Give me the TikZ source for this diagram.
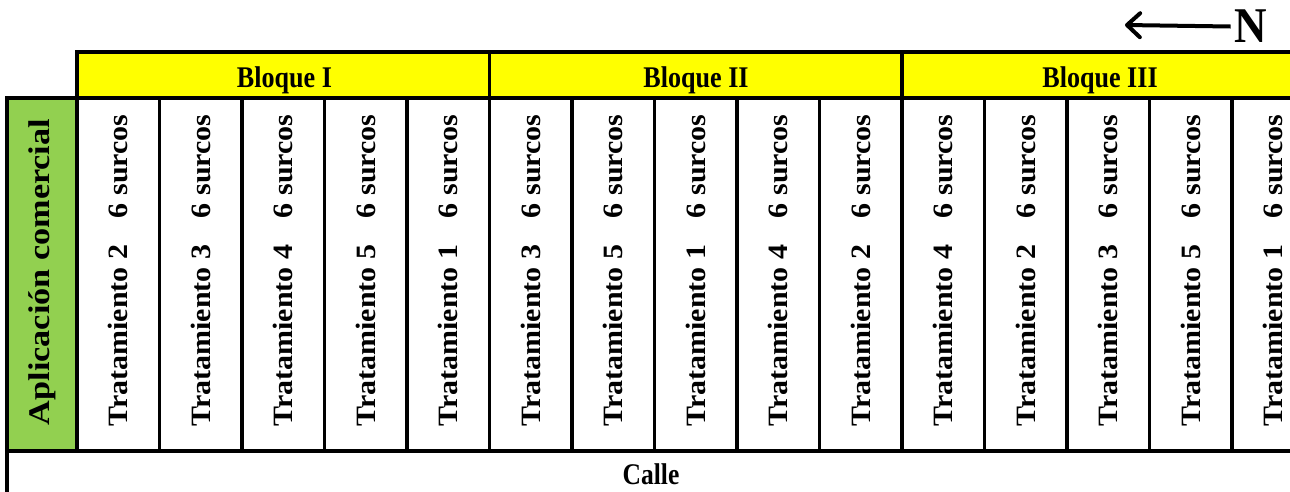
\documentclass[tikz,border=0pt]{standalone}
\usepackage{fontspec}
\setmainfont{Liberation Serif}
\usetikzlibrary{arrows.meta}
\definecolor{hdryellow}{HTML}{FFFF00}
\definecolor{appgreen}{HTML}{92D050}
\begin{document}
\begin{tikzpicture}[x=1pt,y=-1pt,
  border/.style={draw=black,line width=3.3pt,inner sep=0pt,outer sep=0pt},
  hdr/.style={border,fill=hdryellow,minimum width=412.5pt,minimum height=46pt},
  hdrtext/.style={inner sep=0pt,anchor=base,font=\fontsize{30}{32}\selectfont\bfseries},
  colcell/.style={border,minimum width=82.5pt,minimum height=353pt},
  coltext/.style={inner sep=0pt,rotate=90,font=\fontsize{28}{30}\selectfont\bfseries},
  apptext/.style={inner sep=0pt,rotate=90,font=\fontsize{30}{32}\selectfont\bfseries},
  northarrow/.style={line width=4pt,-{Straight Barb[length=13pt,width=24pt,line width=4pt,round]}}
]
\useasboundingbox (0,0) rectangle (1290,491);
\clip (0,0) rectangle (1290,491);
% block headers
\node[hdr] (b1) at (283.25,75) {};
\node[hdr] (b2) at (695.75,75) {};
\node[hdr] (b3) at (1108.25,75) {};
\node[hdrtext] (b1t) at (284.5,87) {\scalebox{0.87}[1]{Bloque I}};
\node[hdrtext] (b2t) at (696,87) {\scalebox{0.87}[1]{Bloque II}};
\node[hdrtext] (b3t) at (1100,87) {\scalebox{0.87}[1]{Bloque III}};
% street row
\node[border,minimum width=1306pt,minimum height=48pt] (calle) at (660,475) {};
\node[hdrtext] (callet) at (651,484.5) {\scalebox{0.85}[1]{Calle}};
% commercial application
\node[border,fill=appgreen,minimum width=70pt,minimum height=353pt] (app) at (42,274.5) {};
\node[apptext] (appt) at (42,272) {\scalebox{1.14}[1]{Aplicación comercial}};
% plots
\foreach \t [count=\i from 0] in {2,3,4,5,1,3,5,1,4,2,4,2,3,5,1} {
  \node[colcell] (cell\i) at ({77+82.5*(\i+0.5)},274.5) {};
  \node[coltext] (txt\i) at ({77+82.5*(\i+0.5)},270.5) {\scalebox{1.07}[1]{Tratamiento \t\hspace{25pt}6 surcos}};
}
% north arrow
\node[inner sep=0pt,font=\fontsize{50}{52}\selectfont\bfseries] (nN) at (1251,26.5) {\scalebox{0.9}[1]{N}};
\coordinate (arrowend) at (1125,25);
\draw[northarrow] ([xshift=-4pt]nN.west) -- (arrowend);
\end{tikzpicture}
\end{document}
